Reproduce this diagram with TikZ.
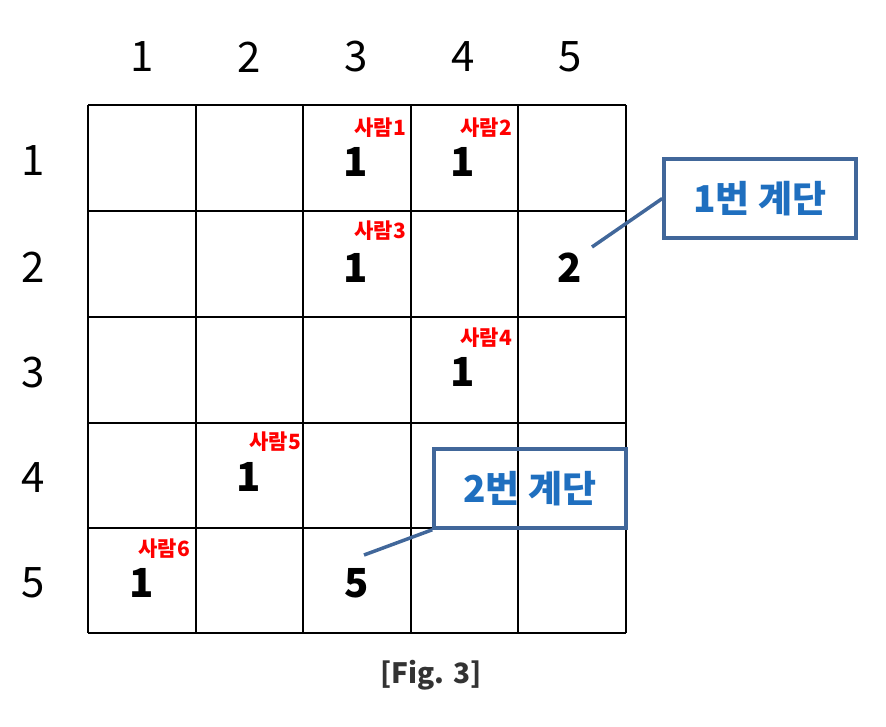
\documentclass[tikz,border=0pt]{standalone}
\usepackage{fontspec}
\setmainfont{Noto Sans CJK KR}
\definecolor{callblue}{HTML}{41679A}
\definecolor{txtblue}{HTML}{1F6FBF}
\definecolor{capgray}{HTML}{333333}
\tikzset{
  axislabel/.style={font=\fontsize{42}{42}\selectfont, inner sep=0pt},
  cellnum/.style={font=\fontsize{40}{40}\selectfont\bfseries, inner sep=0pt},
  person/.style={font=\fontsize{21}{21}\selectfont\bfseries, text=red, inner sep=0pt, anchor=east},
  stairbox/.style={draw=callblue, line width=3.5pt, minimum width=192pt, minimum height=79pt, font=\fontsize{37}{37}\selectfont\bfseries, text=txtblue, inner sep=0pt},
  callline/.style={draw=callblue, line width=3.5pt},
  gridline/.style={line width=2pt}
}
\begin{document}
\begin{tikzpicture}[x=1pt,y=-1pt]
\useasboundingbox (0,0) rectangle (886,726);
% grid
\foreach \x in {88,196,303,411,518,626} \draw[gridline] (\x,105) -- (\x,633);
\foreach \y in {105,211,317,423,528,633} \draw[gridline] (88,\y) -- (626,\y);
% column labels
\node[axislabel] (c1) at (142,57) {1};
\node[axislabel] (c2) at (249,57) {2};
\node[axislabel] (c3) at (356,57) {3};
\node[axislabel] (c4) at (463,57) {4};
\node[axislabel] (c5) at (570,57) {5};
% row labels
\node[axislabel] (r1) at (33,161) {1};
\node[axislabel] (r2) at (33,267) {2};
\node[axislabel] (r3) at (33,373) {3};
\node[axislabel] (r4) at (33,478) {4};
\node[axislabel] (r5) at (33,583) {5};
% cell numbers
\node[cellnum] (n13) at (356,162) {1};
\node[cellnum] (n14) at (463,162) {1};
\node[cellnum] (n23) at (356,268) {1};
\node[cellnum] (n25) at (570,268) {2};
\node[cellnum] (n34) at (463,372) {1};
\node[cellnum] (n42) at (249,477) {1};
\node[cellnum] (n51) at (142,583) {1};
\node[cellnum] (n53) at (357,583) {5};
% person labels
\node[person] (p1) at (406,128) {사람1};
\node[person] (p2) at (512,128) {사람2};
\node[person] (p3) at (406,231) {사람3};
\node[person] (p4) at (512,338) {사람4};
\node[person] (p5) at (301,442) {사람5};
\node[person] (p6) at (190,549) {사람6};
% stair callouts
\node[stairbox] (s1) at (760,198.5) {1번\hspace{0.25em}계단};
\node[stairbox] (s2) at (530,488.5) {2번\hspace{0.25em}계단};
\coordinate (e1) at (592,247);
\coordinate (e2) at (364,555);
\draw[callline] (e1) -- (s1.west);
\draw[callline] (e2) -- (s2.south west);
% caption
\node[font=\fontsize{28}{28}\selectfont\bfseries, text=capgray, inner sep=0pt] (cap) at (431,675) {[Fig. 3]};
\end{tikzpicture}
\end{document}
